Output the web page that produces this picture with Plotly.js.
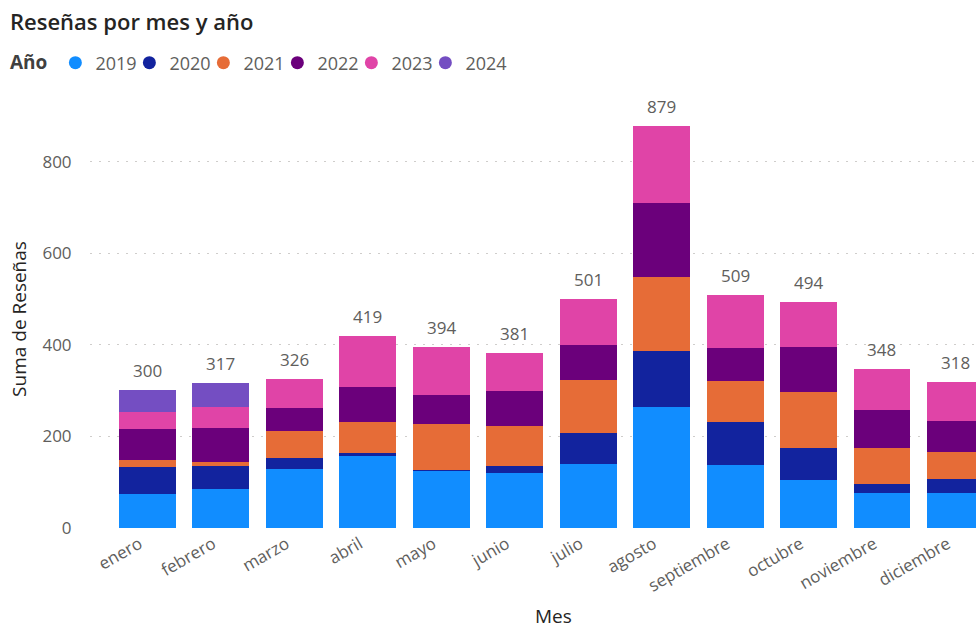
<!DOCTYPE html>
<html>
<head>
<meta charset="utf-8">
<script src="https://cdn.plot.ly/plotly-3.0.1.min.js"></script>
<style>html,body{margin:0;padding:0;background:#fff;overflow:hidden}#chart{width:976px;height:630px}</style>
</head>
<body>
<div id="chart"></div>
<script>
const months = ["enero","febrero","marzo","abril","mayo","junio","julio","agosto","septiembre","octubre","noviembre","diciembre"];
const years = ["2019","2020","2021","2022","2023","2024"];
const v2019 = [74, 85, 129, 157, 123, 120, 140, 263, 138, 104, 77, 77];
const v2020 = [58, 51, 23, 6, 4, 14, 67, 124, 93, 70, 19, 29];
const v2021 = [17, 7, 60, 69, 100, 88, 116, 160, 90, 122, 79, 59];
const v2022 = [66, 74, 50, 75, 63, 77, 76, 163, 71, 98, 82, 69];
const v2023 = [39, 47, 64, 112, 104, 82, 102, 169, 117, 100, 91, 84];
const v2024 = [46, 53, 0, 0, 0, 0, 0, 0, 0, 0, 0, 0];
const colors = ["#118DFF", "#12239E", "#E66C37", "#6B007B", "#E044A7", "#744EC2"];

const series = [v2019, v2020, v2021, v2022, v2023, v2024];
const totals = months.map((m, i) => series.reduce((s, arr) => s + arr[i], 0));

const traces = [];
series.forEach((vals, k) => {
  traces.push({
    type: "bar", name: years[k], x: months, y: vals,
    marker: {color: colors[k], line: {width: 0}},
    showlegend: false, hoverinfo: "x+y+name"
  });
});
// legend entries (circle markers)
series.forEach((vals, k) => {
  traces.push({
    type: "scatter", mode: "markers", name: years[k], x: [null], y: [null],
    marker: {color: colors[k], size: 13, symbol: "circle"},
    showlegend: true, hoverinfo: "skip"
  });
});
// blank spacer entry so the last legend label is not clipped
traces.push({
  type: "scatter", mode: "markers", name: " ", x: [null], y: [null],
  marker: {color: "rgba(0,0,0,0)", size: 1}, showlegend: true, hoverinfo: "skip"
});

const totalLabels = months.map((m, i) => ({
  x: m, y: totals[i], xref: "x", yref: "y", text: String(totals[i]),
  showarrow: false, yanchor: "bottom", yshift: 6,
  font: {family: "Open Sans, sans-serif", size: 17, color: "#605E5C"}
}));

const layout = {
  width: 976, height: 630,
  margin: {l: 90, r: 0, t: 110, b: 102},
  paper_bgcolor: "#ffffff", plot_bgcolor: "#ffffff",
  barmode: "stack", bargap: 0.225,
  font: {family: "Open Sans, sans-serif", color: "#605E5C"},
  title: {
    text: "Reseñas por mes y año", xref: "container", yref: "container",
    x: 10/976, xanchor: "left", y: 1 - 22/630, yanchor: "middle",
    font: {family: "Open Sans, sans-serif", size: 22, weight: 600, color: "#252423"}
  },
  legend: {
    orientation: "h", xref: "container", yref: "container",
    x: 8/976, xanchor: "left", y: 1 - 63/630, yanchor: "middle",
    title: {text: "<b>Año</b>", font: {family: "Open Sans, sans-serif", size: 19, color: "#404040"}},
    font: {family: "Open Sans, sans-serif", size: 18, color: "#605E5C"},
    itemwidth: 30, entrywidth: 29, entrywidthmode: "pixels",
    traceorder: "normal", bgcolor: "rgba(0,0,0,0)"
  },
  annotations: totalLabels.concat([{
    text: "Mes", xref: "paper", yref: "paper", x: (553 - 90) / 886, y: -(616 - 528) / 418,
    xanchor: "center", yanchor: "middle", showarrow: false,
    font: {family: "Open Sans, sans-serif", size: 19, color: "#252423"}
  }]),
  xaxis: {
    type: "category", range: [-0.78, 11.28],
    tickangle: -30, tickfont: {size: 17, color: "#605E5C"},
    showgrid: false, zeroline: false, showline: false,
    ticks: "", ticklabelshift: -8, ticklabelstandoff: 2,
    automargin: false
  },
  yaxis: {
    range: [-0.6, 913.1], dtick: 200, tick0: 0,
    showgrid: true, gridcolor: "#CFCDCB", griddash: "2px,7px", gridwidth: 1.2,
    zeroline: false, showline: false,
    ticks: "outside", ticklen: 14, tickcolor: "rgba(0,0,0,0)",
    tickfont: {size: 17, color: "#605E5C"},
    title: {text: "Suma de Reseñas", standoff: 10, font: {size: 19, color: "#252423"}},
    automargin: false
  },
  showlegend: true
};

Plotly.newPlot("chart", traces, layout, {displayModeBar: false, staticPlot: true});
</script>
</body>
</html>
